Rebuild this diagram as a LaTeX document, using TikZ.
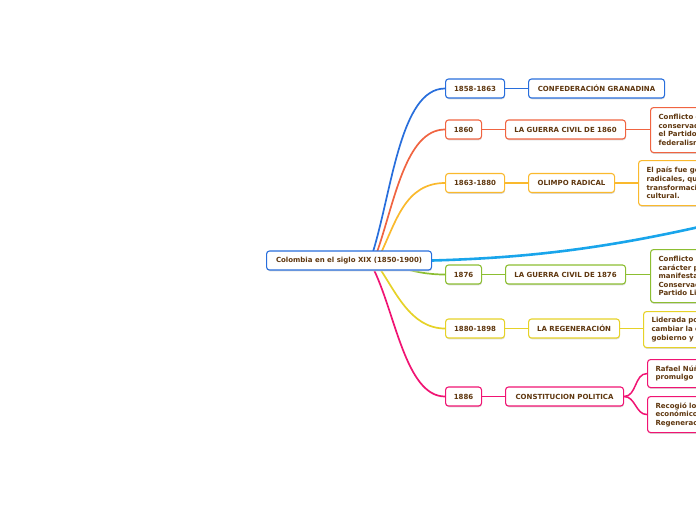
\documentclass[tikz,border=0pt]{standalone}
\usepackage{fontspec}
\setmainfont{DejaVu Sans}
\usetikzlibrary{shadows}
\definecolor{txt}{RGB}{95,55,15}
\definecolor{cblue}{RGB}{40,110,220}
\definecolor{cred}{RGB}{240,100,65}
\definecolor{corange}{RGB}{250,185,45}
\definecolor{clight}{RGB}{25,165,235}
\definecolor{cgreen}{RGB}{140,190,50}
\definecolor{cyellow}{RGB}{230,210,40}
\definecolor{cpink}{RGB}{240,20,115}
\pgfdeclarelayer{bg}
\pgfsetlayers{bg,main}
\begin{document}
\begin{tikzpicture}[x=1pt,y=-1pt,
  box/.style={draw, rounded corners=3pt, fill=white, line width=1.1pt, text=txt,
    font=\bfseries\fontsize{7}{8.6}\selectfont, inner sep=0pt, anchor=west,
    general shadow={fill=black!14, shadow xshift=0.4pt, shadow yshift=-1.3pt}},
  desc/.style={box, anchor=north west, align=left, text width=140pt, inner xsep=8pt, inner ysep=0pt},
  link/.style={line width=1.5pt},
  stem/.style={line width=1.7pt}]
\clip (0,0) rectangle (696,520);
% central
\node[box, draw=cblue, minimum width=165pt, minimum height=19pt] (c) at (266,260.5) {Colombia en el siglo XIX (1850-1900)};
% level 1
\node[box, draw=cblue, minimum width=59pt, minimum height=19pt] (d1) at (445,88.5) {1858-1863};
\node[box, draw=cred, minimum width=36pt, minimum height=19pt] (d2) at (445,129.5) {1860};
\node[box, draw=corange, minimum width=59pt, minimum height=19pt] (d3) at (445,183) {1863-1880};
\node[box, draw=cgreen, minimum width=36pt, minimum height=19pt] (d4) at (445,274.5) {1876};
\node[box, draw=cyellow, minimum width=59pt, minimum height=19pt] (d5) at (445,328.5) {1880-1898};
\node[box, draw=cpink, minimum width=36pt, minimum height=19pt] (d6) at (445,396.5) {1886};
% level 2
\node[box, draw=cblue, minimum width=136pt, minimum height=19pt] (e1) at (528,88.5) {CONFEDERACIÓN GRANADINA};
\node[box, draw=cred, minimum width=120pt, minimum height=19pt] (e2) at (505,129.5) {LA GUERRA CIVIL DE 1860};
\node[box, draw=corange, minimum width=86pt, minimum height=19pt] (e3) at (528,183) {OLIMPO RADICAL};
\node[box, draw=cgreen, minimum width=120pt, minimum height=19pt] (e4) at (505,274.5) {LA GUERRA CIVIL DE 1876};
\node[box, draw=cyellow, minimum width=91pt, minimum height=19pt] (e5) at (528,328.5) {LA REGENERACIÓN};
\node[box, draw=cpink, minimum width=118pt, minimum height=19pt] (e6) at (505,396.5) {CONSTITUCION POLITICA};
% level 3
\node[desc, draw=cred, minimum height=45pt] (t2) at (650,107) {Conflicto e\\conservad\\el Partido\\federalism};
\node[desc, draw=corange, minimum height=45pt] (t3) at (638,160) {El país fue go\\radicales, qu\\transformaci\\cultural.};
\node[desc, draw=cgreen, minimum height=53pt] (t4) at (650,249) {Conflicto b\\carácter p\\manifesta\\Conservad\\Partido Li};
\node[desc, draw=cyellow, minimum height=36pt] (t5) at (643,311) {Liderada po\\cambiar la c\\gobierno y};
\node[desc, draw=cpink, minimum height=28pt] (t6a) at (647,359) {Rafael Núñ\\promulgo};
\node[desc, draw=cpink, minimum height=36pt] (t6b) at (647,396) {Recogió lo\\económico\\Regenerac};
\coordinate (hubT) at (372,255);
\coordinate (hubB) at (372,266);
\coordinate (far) at (712,224);
\begin{pgfonlayer}{bg}
\draw[stem, cblue] (hubT) .. controls (392,192) and (400,88.5) .. (d1.west);
\draw[stem, cred] (376,255) .. controls (394,205) and (405,129.5) .. (d2.west);
\draw[stem, corange] (380,255) .. controls (396,222) and (405,183) .. (d3.west);
\draw[stem, cgreen] (395,266) .. controls (415,272) and (428,274.5) .. (d4.west);
\draw[stem, cyellow] (378,266) .. controls (395,290) and (410,328.5) .. (d5.west);
\draw[stem, cpink] (hubB) .. controls (395,310) and (405,396.5) .. (d6.west);
\draw[line width=2.6pt, clight] (c.east) .. controls (520,258) and (600,250) .. (far);
\draw[link, cblue] (d1.east) -- (e1.west);
\draw[link, cred] (d2.east) -- (e2.west);
\draw[link, corange] (d3.east) -- (e3.west);
\draw[link, cgreen] (d4.east) -- (e4.west);
\draw[link, cyellow] (d5.east) -- (e5.west);
\draw[link, cpink] (d6.east) -- (e6.west);
\draw[link, cred] (e2.east) -- (e2.east -| t2.west);
\draw[link, corange] (e3.east) -- (e3.east -| t3.west);
\draw[link, cgreen] (e4.east) -- (e4.east -| t4.west);
\draw[link, cyellow] (e5.east) -- (e5.east -| t5.west);
\draw[link, cpink] (e6.east) to[out=0,in=180] (t6a.west);
\draw[link, cpink] (e6.east) to[out=0,in=180] (t6b.west);
\end{pgfonlayer}
\end{tikzpicture}
\end{document}
